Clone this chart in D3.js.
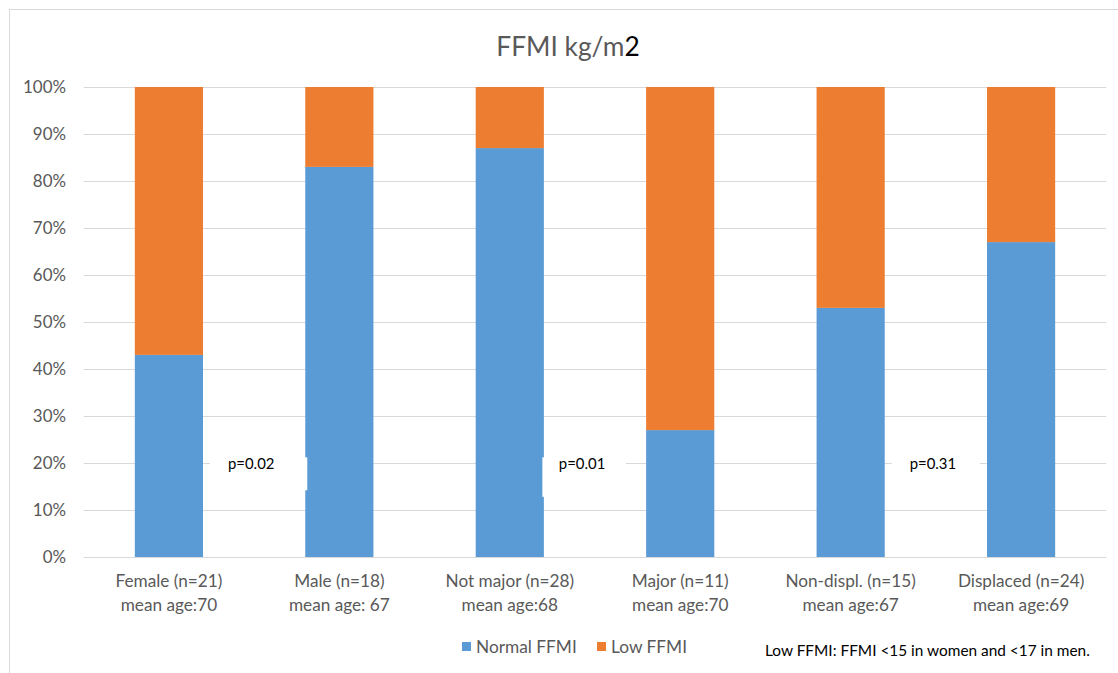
<!DOCTYPE html>
<html><head><meta charset="utf-8">
<script src="https://cdn.jsdelivr.net/npm/d3@7"></script>
<style>body{margin:0;background:#fff}svg{display:block}text{font-family:Lato,"Open Sans","Liberation Sans",sans-serif}</style>
</head><body>
<script>
const categories = ["Female (n=21)|mean age:70","Male (n=18)|mean age: 67","Not major (n=28)|mean age:68","Major (n=11)|mean age:70","Non-displ. (n=15)|mean age:67","Displaced (n=24)|mean age:69"];
const normalFFMI = [43,83,87,27,53,67];
const lowFFMI = normalFFMI.map(v => 100 - v);
const yTicks = [0,10,20,30,40,50,60,70,80,90,100];
const pLabels = [{after:0, text:"p=0.02"},{after:2, text:"p=0.01"},{after:4, text:"p=0.31"}];

const W = 1118, H = 673;
const svg = d3.select("body").append("svg").attr("width", W).attr("height", H);
svg.append("rect").attr("x",9.5).attr("y",9.5).attr("width",W-9).attr("height",H-9).attr("fill","#fff").attr("stroke","#d9d9d9");

const x = d3.scaleBand().domain(categories).range([83.7,1106.3]).paddingInner(0.6).paddingOuter(0.3);
const y = d3.scaleLinear().domain([0,100]).range([557,87]);

// gridlines
svg.append("g").selectAll("line").data(yTicks).join("line")
  .attr("x1",83.7).attr("x2",1106.3).attr("y1",d=>Math.round(y(d))+0.5).attr("y2",d=>Math.round(y(d))+0.5)
  .attr("stroke","#d9d9d9").attr("stroke-width",1);

// y labels
svg.append("g").selectAll("text").data(yTicks).join("text")
  .attr("x",66).attr("y",d=>y(d)+6).attr("text-anchor","end").attr("font-size",16.9).attr("fill","#595959")
  .text(d=>d+"%");

// bars
const bars = svg.append("g");
bars.selectAll("rect.n").data(categories).join("rect").attr("class","n")
  .attr("x",d=>x(d)).attr("width",x.bandwidth())
  .attr("y",(d,i)=>y(normalFFMI[i])).attr("height",(d,i)=>y(0)-y(normalFFMI[i])).attr("fill","#5b9bd5");
bars.selectAll("rect.l").data(categories).join("rect").attr("class","l")
  .attr("x",d=>x(d)).attr("width",x.bandwidth())
  .attr("y",(d,i)=>y(normalFFMI[i]+lowFFMI[i])).attr("height",(d,i)=>y(normalFFMI[i])-y(normalFFMI[i]+lowFFMI[i])).attr("fill","#ed7d31");

// category labels
const cl = svg.append("g").selectAll("text").data(categories).join("text")
  .attr("text-anchor","middle").attr("font-size",17.2).attr("fill","#595959");
cl.each(function(d){
  const parts = d.split("|");
  const cx = x(d)+x.bandwidth()/2;
  d3.select(this).selectAll("tspan").data(parts).join("tspan")
    .attr("x",cx).attr("y",(p,i)=>587+i*23.5).text(p=>p);
});

// p-value boxes
const pg = svg.append("g");
pLabels.forEach(p=>{
  const leftBarEnd = x(categories[p.after]) + x.bandwidth();
  const isMid = p.after===2;
  const bx0 = isMid ? leftBarEnd - 1.5 : leftBarEnd + 7;
  const bx1 = isMid ? leftBarEnd + 82 : (p.after===4 ? leftBarEnd + 95 : x(categories[p.after+1]) + 2);
  const by0 = y(21.2), by1 = isMid ? y(12.8) : y(14.2);
  pg.append("rect").attr("x",bx0).attr("y",by0)
    .attr("width",bx1-bx0).attr("height",by1-by0).attr("fill","#fff");
  pg.append("text").attr("x", isMid ? leftBarEnd+15 : leftBarEnd+25)
    .attr("y", y(20)+6).attr("font-size",14.9).attr("fill","#000").text(p.text);
});

// title
const t = svg.append("text").attr("x",568).attr("y",56).attr("text-anchor","middle").attr("font-size",26.3).attr("fill","#595959");
t.append("tspan").text("FFMI kg/m");
t.append("tspan").attr("fill","#000").text("2");

// legend
const leg = [{k:"Normal FFMI",c:"#5b9bd5",x:462},{k:"Low FFMI",c:"#ed7d31",x:597}];
const lg = svg.append("g").selectAll("g").data(leg).join("g");
lg.append("rect").attr("x",d=>d.x).attr("y",642).attr("width",9).attr("height",9).attr("fill",d=>d.c);
lg.append("text").attr("x",d=>d.x+14).attr("y",653).attr("font-size",17.3).attr("fill","#595959").text(d=>d.k);

svg.append("text").attr("x",765).attr("y",656).attr("font-size",15.4).attr("fill","#000")
  .text("Low FFMI: FFMI <15 in women and <17 in men.");
</script>
</body></html>
